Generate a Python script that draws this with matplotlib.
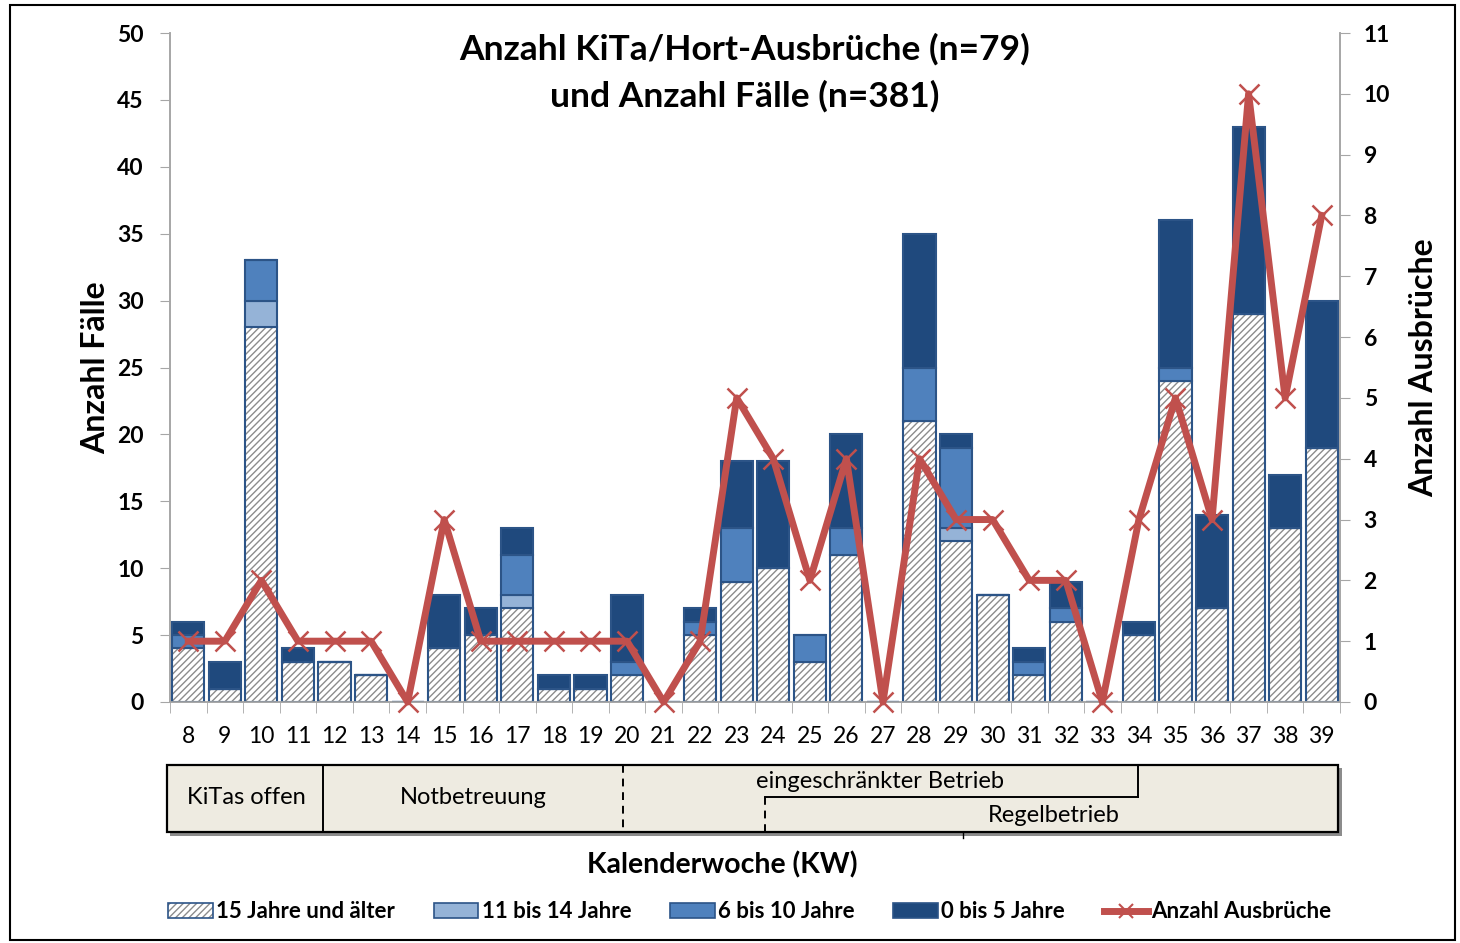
import matplotlib
matplotlib.use('Agg')
import matplotlib.pyplot as plt
from matplotlib.legend_handler import HandlerTuple
import numpy as np
from matplotlib.patches import Patch, Rectangle
from matplotlib.lines import Line2D

plt.rcParams['font.family'] = ['Lato', 'DejaVu Sans']

# Kalenderwochen
weeks = list(range(8, 40))
# Fälle je Altersgruppe
age_15_plus = [4, 1, 28, 3, 3, 2, 0, 4, 5, 7, 1, 1, 2, 0, 5, 9, 10, 3, 11, 0, 21, 12, 8, 2, 6, 0, 5, 24, 7, 29, 13, 19]
age_11_14 = [0, 0, 2, 0, 0, 0, 0, 0, 0, 1, 0, 0, 0, 0, 0, 0, 0, 0, 0, 0, 0, 1, 0, 0, 0, 0, 0, 0, 0, 0, 0, 0]
age_6_10 = [1, 0, 3, 0, 0, 0, 0, 0, 0, 3, 0, 0, 1, 0, 1, 4, 0, 2, 2, 0, 4, 6, 0, 1, 1, 0, 0, 1, 0, 0, 0, 0]
age_0_5 = [1, 2, 0, 1, 0, 0, 0, 4, 2, 2, 1, 1, 5, 0, 1, 5, 8, 0, 7, 0, 10, 1, 0, 1, 2, 0, 1, 11, 7, 14, 4, 11]
# Anzahl Ausbrüche
outbreaks = [1, 1, 2, 1, 1, 1, 0, 3, 1, 1, 1, 1, 1, 0, 1, 5, 4, 2, 4, 0, 4, 3, 3, 2, 2, 0, 3, 5, 3, 10, 5, 8]

c_dark = '#1F497D'
c_mid = '#4F81BD'
c_light = '#95B3D7'
c_edge = '#2C5487'
c_line = '#C0504D'
c_hatch = '#8C8C8C'
c_grey = '#A6A6A6'

fig = plt.figure(figsize=(14.6, 9.43), dpi=100)
ax = fig.add_axes([170 / 1460, 1 - 702 / 943, 1170 / 1460, 669 / 943])

x = np.arange(len(weeks))
w = 0.88
a = np.array(age_15_plus)
b = np.array(age_11_14)
c = np.array(age_6_10)
d = np.array(age_0_5)

# hatched base (hatch in grey, border in blue)
ax.bar(x, a, w, color='white', edgecolor=c_hatch, hatch='/////', linewidth=0, zorder=2)
ax.bar(x, a, w, fill=False, edgecolor=c_edge, linewidth=1.5, zorder=3)
ax.bar(x, b, w, bottom=a, color=c_light, edgecolor=c_edge, linewidth=1.5, zorder=3)
ax.bar(x, c, w, bottom=a + b, color=c_mid, edgecolor=c_edge, linewidth=1.5, zorder=3)
ax.bar(x, d, w, bottom=a + b + c, color=c_dark, edgecolor=c_edge, linewidth=1.5, zorder=3)

ax.set_xlim(-0.5, len(weeks) - 0.5)
ax.set_ylim(0, 50)
ax.set_yticks(range(0, 51, 5))
ax.set_xticks(x)
ax.set_xticklabels([str(k) for k in weeks])
ax.set_xticks(np.arange(-0.5, len(weeks), 1), minor=True)
ax.tick_params(axis='x', which='major', length=0, pad=17, labelsize=16.5)
ax.tick_params(axis='x', which='minor', length=8, color=c_grey)
ax.tick_params(axis='y', length=7, color=c_grey, labelsize=16.5, pad=12)
for lab in ax.get_yticklabels():
    lab.set_fontweight('bold')
ax.spines['top'].set_visible(False)
for s in ['left', 'right', 'bottom']:
    ax.spines[s].set_color(c_grey)
    ax.spines[s].set_linewidth(1.2)
ax.set_ylabel('Anzahl Fälle', fontsize=23, fontweight='bold', labelpad=5)

ax2 = ax.twinx()
ax2.plot(x, outbreaks, color=c_line, linewidth=5, marker='x', markersize=14,
         markeredgewidth=1.8, clip_on=False, zorder=5)
ax2.set_ylim(0, 11)
ax2.set_yticks(range(0, 12))
ax2.tick_params(axis='y', length=7, color=c_grey, labelsize=16.5, pad=10)
for lab in ax2.get_yticklabels():
    lab.set_fontweight('bold')
ax2.spines['top'].set_visible(False)
for s in ['left', 'right', 'bottom']:
    ax2.spines[s].set_color(c_grey)
    ax2.spines[s].set_linewidth(1.2)
ax2.set_ylabel('Anzahl Ausbrüche', fontsize=23, fontweight='bold', labelpad=14)

fig.text(745 / 1460, 1 - 73 / 943, 'Anzahl KiTa/Hort-Ausbrüche (n=79)\nund Anzahl Fälle (n=381)',
         ha='center', va='center', fontsize=25.5, fontweight='bold', linespacing=1.55)

# phase box below the axis
def fx(px):
    return px / 1460

def fy(py):
    return 1 - py / 943

fig.patches.append(Rectangle((fx(170), fy(836)), fx(1342) - fx(170), fy(768) - fy(836),
                             transform=fig.transFigure, facecolor='#8C8C8C', edgecolor='none', zorder=0))
fig.patches.append(Rectangle((fx(167), fy(832)), fx(1338) - fx(167), fy(765) - fy(832),
                             transform=fig.transFigure, facecolor='#EEEBE1', edgecolor='black',
                             linewidth=1.6, zorder=1))
lines = [
    ([323, 323], [765, 832], '-'),
    ([623, 623], [765, 832], (0, (4, 3))),
    ([765, 1138], [797, 797], '-'),
    ([1138, 1138], [765, 797], '-'),
    ([765, 765], [797, 832], (0, (4, 3))),
]
for xs, ys, ls in lines:
    fig.add_artist(Line2D([fx(v) for v in xs], [fy(v) for v in ys], color='black',
                          linewidth=1.4, linestyle=ls, transform=fig.transFigure))
fig.add_artist(Line2D([fx(963), fx(963)], [fy(832), fy(838)], color='black', linewidth=1,
                      transform=fig.transFigure))
phase_fs = 17
fig.text(fx(246), fy(797), 'KiTas offen', ha='center', va='center', fontsize=phase_fs)
fig.text(fx(473), fy(798), 'Notbetreuung', ha='center', va='center', fontsize=phase_fs)
fig.text(fx(880), fy(781), 'eingeschränkter Betrieb', ha='center', va='center', fontsize=phase_fs)
fig.text(fx(1054), fy(816), 'Regelbetrieb', ha='center', va='center', fontsize=phase_fs)

fig.text(fx(722), fy(865), 'Kalenderwoche (KW)', ha='center', va='center', fontsize=20.5, fontweight='bold')

# legend
handles = [
    (Patch(facecolor='white', edgecolor=c_hatch, hatch='/////', linewidth=0),
     Patch(fill=False, edgecolor=c_edge, linewidth=1.2)),
    Patch(facecolor=c_light, edgecolor=c_edge, linewidth=1.2),
    Patch(facecolor=c_mid, edgecolor=c_edge, linewidth=1.2),
    Patch(facecolor=c_dark, edgecolor=c_edge, linewidth=1.2),
    Line2D([], [], color=c_line, linewidth=5, marker='x', markersize=10, markeredgewidth=1.5),
]
labels = ['15 Jahre und älter', '11 bis 14 Jahre', '6 bis 10 Jahre', '0 bis 5 Jahre', 'Anzahl Ausbrüche']
fig.legend(handles, labels, loc='center', bbox_to_anchor=(fx(750), fy(912)), ncol=5,
           frameon=False, prop={'size': 16, 'weight': 'bold'}, handlelength=2.0,
           handleheight=0.65, handletextpad=0.15, columnspacing=1.75,
           handler_map={tuple: HandlerTuple(ndivide=1, pad=0)})

# outer frame
fig.patches.append(Rectangle((fx(10), fy(940)), fx(1455) - fx(10), fy(5) - fy(940),
                             transform=fig.transFigure, fill=False, edgecolor='black', linewidth=1.5))

fig.savefig('out.png', dpi=100, facecolor='white')
